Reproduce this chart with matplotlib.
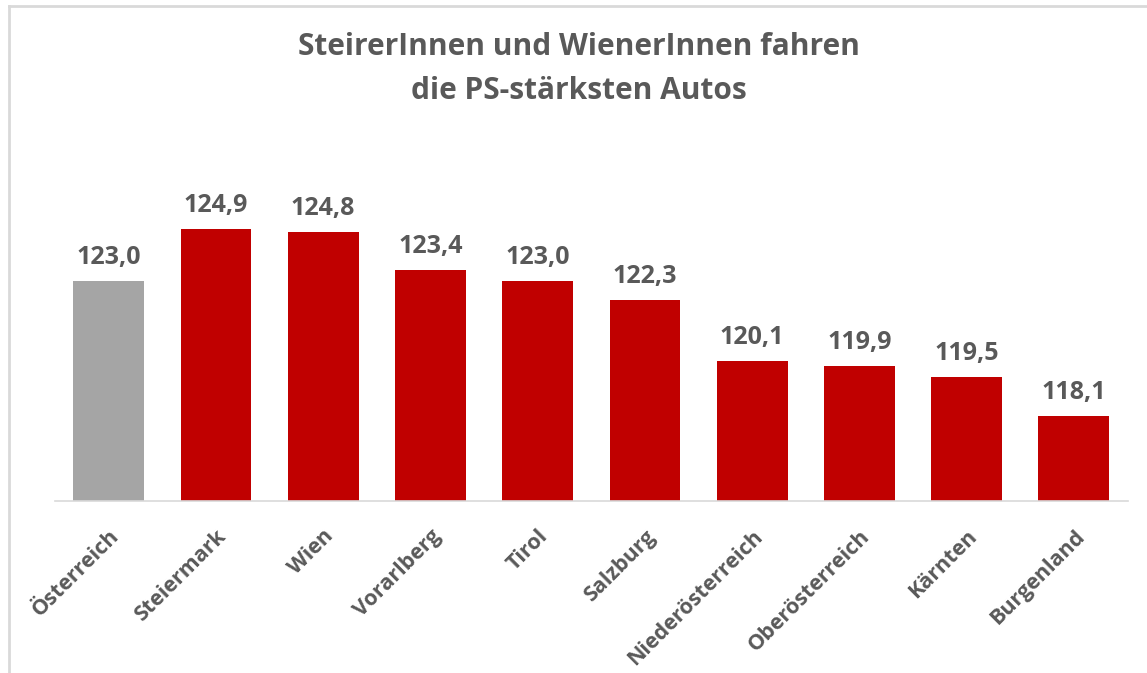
import matplotlib.pyplot as plt

# data
regions = ['Österreich', 'Steiermark', 'Wien', 'Vorarlberg', 'Tirol', 'Salzburg',
           'Niederösterreich', 'Oberösterreich', 'Kärnten', 'Burgenland']
ps = [123.0, 124.9, 124.8, 123.4, 123.0, 122.3, 120.1, 119.9, 119.5, 118.1]
labels = ['123,0', '124,9', '124,8', '123,4', '123,0', '122,3', '120,1', '119,9', '119,5', '118,1']

red = '#C00000'
grey = '#A5A5A5'
txt = '#595959'
colors = [grey] + [red] * (len(regions) - 1)

plt.rcParams['font.family'] = ['Open Sans', 'DejaVu Sans']

fig = plt.figure(figsize=(11.47, 6.73), dpi=100)
ax = fig.add_axes([0.048, 0.2556, 0.935, 0.49])

x = range(len(regions))
bars = ax.bar(x, ps, width=0.66, color=colors, bottom=0)
ax.set_ylim(115, 127)
ax.set_xlim(-0.5, len(regions) - 0.5)

for b, lab in zip(bars, labels):
    ax.annotate(lab, (b.get_x() + b.get_width() / 2, b.get_height()),
                xytext=(0, 8), textcoords='offset points', ha='center', va='bottom',
                fontsize=18, fontweight='bold', color=txt)

ax.set_xticks(list(x))
ax.set_xticklabels(regions, rotation=45, ha='right', rotation_mode='anchor',
                   fontsize=15.5, fontweight='bold', color=txt)
ax.tick_params(axis='x', length=0, pad=18)
ax.set_yticks([])
for s in ['top', 'right', 'left']:
    ax.spines[s].set_visible(False)
ax.spines['bottom'].set_color('#D9D9D9')
ax.spines['bottom'].set_linewidth(1.2)

fig.text(0.505, 0.952, 'SteirerInnen und WienerInnen fahren\ndie PS-stärksten Autos',
         ha='center', va='top', fontsize=21.5, fontweight='bold', color=txt,
         linespacing=1.6)

# chart border (only top and left visible in crop)
fig.add_artist(plt.Line2D([9 / 1147, 1], [1 - 6 / 673, 1 - 6 / 673], color='#D9D9D9', lw=2,
                          transform=fig.transFigure))
fig.add_artist(plt.Line2D([9 / 1147, 9 / 1147], [0, 1 - 6 / 673], color='#D9D9D9', lw=2,
                          transform=fig.transFigure))

fig.savefig('out.png', dpi=100)
